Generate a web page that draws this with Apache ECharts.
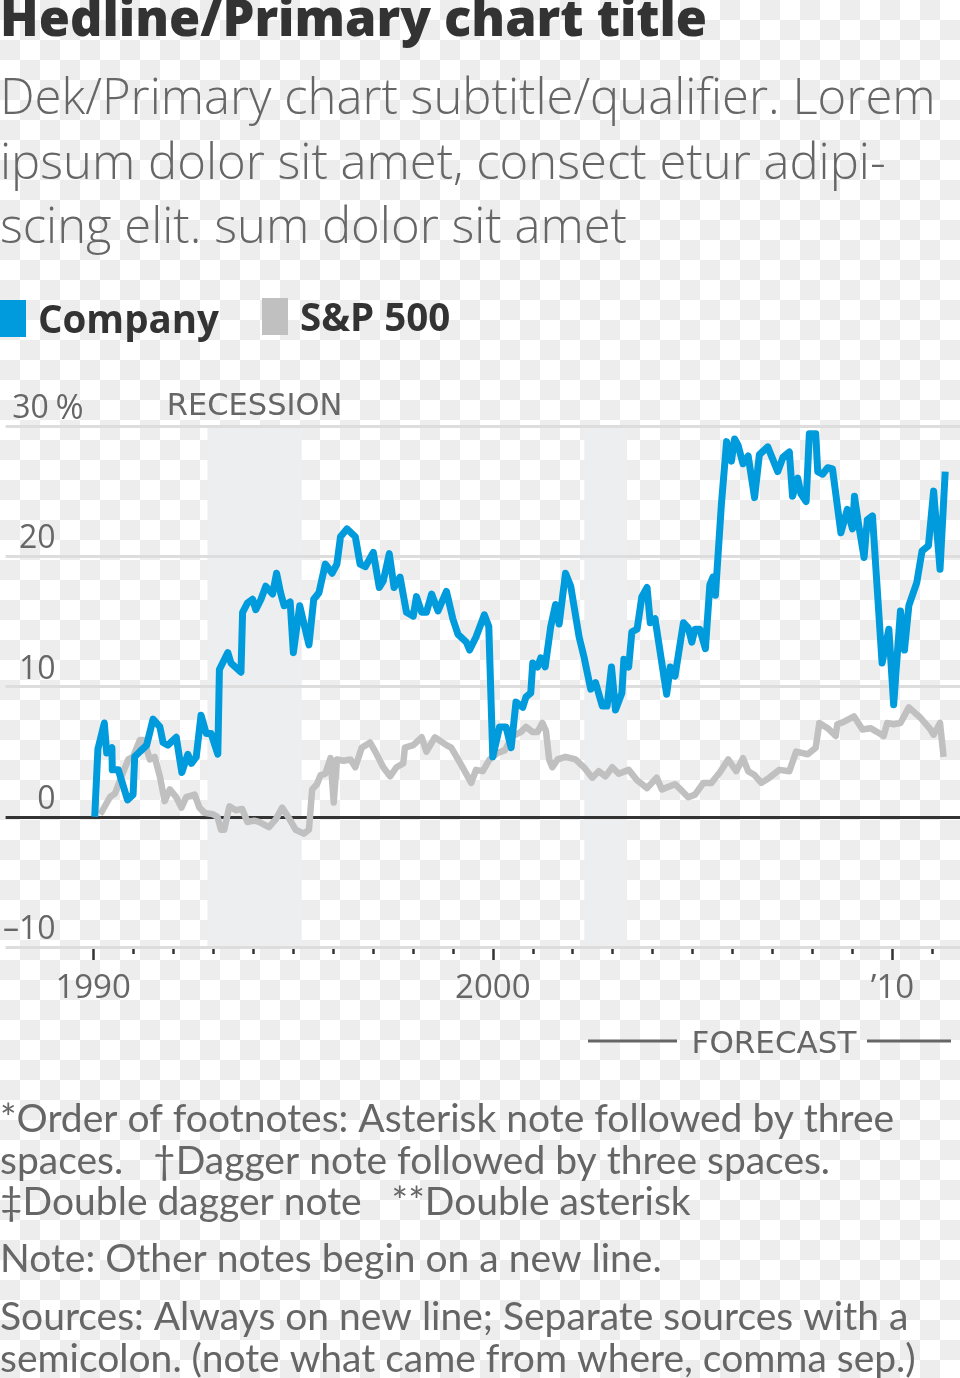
<!DOCTYPE html>
<html>
<head>
<meta charset="utf-8">
<script src="https://cdn.jsdelivr.net/npm/echarts@6/dist/echarts.min.js"></script>
<style>
html,body{margin:0;padding:0;}
body{width:960px;height:1378px;background:repeating-conic-gradient(#ffffff 0 25%, #ededed 0 50%) 0 0/40px 40px;}
#chart{width:960px;height:1378px;}
</style>
</head>
<body>
<div id="chart"></div>
<script>
// ---------------- DATA ----------------
const titleText = 'Hedline/Primary chart title';
const subtitleLines = [
  'Dek/Primary chart subtitle/qualifier. Lorem',
  'ipsum dolor sit amet, consect etur adipi-',
  'scing elit. sum dolor sit amet'
];
const footnoteLines = [
  '*Order of footnotes: Asterisk note followed by three',
  'spaces.   \u2020Dagger note followed by three spaces.',
  '\u2021Double dagger note   **Double asterisk'
];
const noteLine = 'Note: Other notes begin on a new line.';
const sourceLines = [
  'Sources: Always on new line; Separate sources with a',
  'semicolon. (note what came from where, comma sep.)'
];
const seriesNames = ['Company', 'S&P 500'];
const yTicks = [-10, 0, 10, 20, 30];
const xTickYears = [1990,1991,1992,1993,1994,1995,1996,1997,1998,1999,2000,2001,2002,2003,2004,2005,2006,2007,2008,2009,2010,2011];
const xLabelYears = [1990, 2000, 2010];
const xLabelText = ['1990', '2000', '\u201910'];
const recessionLabel = 'RECESSION';
const recessions = [[1992.86, 1995.22], [2002.29, 2003.36]];
const forecastLabel = 'FORECAST';

// [year, % change]
const companyData = [
[1990.04,0],[1990.12,5.2],[1990.28,7.2],[1990.34,4.9],[1990.47,5.3],[1990.48,3.6],[1990.63,3.6],[1990.86,1.3],[1991.00,1.7],[1991.04,4.6],
[1991.17,5.0],[1991.34,5.5],[1991.50,7.5],[1991.67,6.9],[1991.75,5.7],[1991.87,5.5],[1992.08,6.1],[1992.22,3.4],[1992.37,4.8],[1992.46,4.1],
[1992.58,4.6],[1992.70,7.8],[1992.83,6.4],[1992.95,6.4],[1993.12,4.8],[1993.16,11.3],[1993.37,12.6],[1993.45,11.8],[1993.70,11.1],[1993.74,15.7],
[1993.86,16.4],[1993.99,16.7],[1994.07,15.9],[1994.20,16.7],[1994.32,17.7],[1994.49,17.1],[1994.59,18.7],[1994.69,17.2],[1994.78,16.2],[1994.93,16.5],
[1995.01,12.6],[1995.17,16.2],[1995.40,13.2],[1995.52,16.7],[1995.65,17.2],[1995.81,19.4],[1995.98,18.7],[1996.10,19.4],[1996.19,21.5],[1996.35,22.1],
[1996.56,21.5],[1996.68,19.4],[1996.81,19.2],[1997.01,20.3],[1997.16,17.6],[1997.26,18.1],[1997.41,20.2],[1997.53,17.6],[1997.68,18.4],[1997.84,15.7],
[1998.01,15.4],[1998.09,16.9],[1998.22,15.7],[1998.34,15.7],[1998.47,17.1],[1998.63,15.8],[1998.84,17.3],[1999.00,15.2],[1999.13,14.0],[1999.34,13.4],
[1999.42,12.8],[1999.58,13.8],[1999.79,15.5],[1999.90,14.6],[2000.00,4.6],[2000.17,6.9],[2000.33,6.9],[2000.46,5.3],[2000.58,8.8],[2000.75,8.4],
[2000.83,9.2],[2000.95,9.5],[2001.00,11.8],[2001.12,11.5],[2001.20,12.2],[2001.31,11.5],[2001.45,14.6],[2001.57,16.3],[2001.66,14.8],[2001.82,18.7],
[2001.95,17.7],[2002.16,13.8],[2002.28,12.3],[2002.45,9.8],[2002.57,10.3],[2002.74,8.5],[2002.86,8.5],[2002.97,11.5],[2003.07,8.2],[2003.23,9.5],
[2003.28,12.1],[2003.40,11.5],[2003.48,14.2],[2003.61,14.4],[2003.73,16.9],[2003.86,17.6],[2003.94,14.9],[2004.06,15.2],[2004.35,9.4],[2004.44,11.5],
[2004.56,10.8],[2004.77,14.9],[2004.89,14.5],[2004.98,13.4],[2005.06,14.4],[2005.18,14.4],[2005.32,12.9],[2005.43,17.8],[2005.51,18.4],[2005.57,17.0],
[2005.72,24.0],[2005.85,28.8],[2005.97,27.3],[2006.05,29.0],[2006.14,28.5],[2006.26,27.1],[2006.39,27.7],[2006.55,24.5],[2006.67,27.8],[2006.88,28.4],
[2007.13,26.5],[2007.26,27.6],[2007.42,28.0],[2007.50,24.6],[2007.63,26.0],[2007.71,24.8],[2007.84,24.2],[2007.92,29.4],[2008.08,29.4],[2008.13,26.5],
[2008.25,26.3],[2008.38,26.8],[2008.50,26.7],[2008.71,21.8],[2008.87,23.6],[2009.00,22.1],[2009.05,24.6],[2009.15,22.5],[2009.29,19.9],[2009.37,22.8],
[2009.50,23.1],[2009.74,11.8],[2009.91,14.4],[2010.03,8.6],[2010.20,15.8],[2010.30,12.8],[2010.41,16.2],[2010.61,18.0],[2010.74,20.4],[2010.90,20.8],
[2011.03,25.0],[2011.19,19.0],[2011.32,26.5]
];

const spData = [
[1990.17,0.2],[1990.22,0.4],[1990.42,1.5],[1990.55,1.8],[1990.71,3.1],[1990.88,4.4],[1991.00,4.6],[1991.17,5.9],[1991.25,5.9],[1991.34,5.2],
[1991.42,4.4],[1991.54,4.6],[1991.67,3.1],[1991.79,1.2],[1991.92,2.1],[1992.08,1.5],[1992.21,0.7],[1992.33,1.5],[1992.54,1.7],[1992.66,0.7],
[1992.79,0.3],[1992.99,0.2],[1993.11,0.0],[1993.20,-1.0],[1993.28,-1.0],[1993.41,0.8],[1993.57,0.5],[1993.73,0.6],[1993.86,-0.4],[1994.03,-0.3],
[1994.15,-0.4],[1994.28,-0.6],[1994.40,-0.8],[1994.57,-0.2],[1994.73,0.7],[1994.90,-0.1],[1995.07,-1.0],[1995.27,-1.3],[1995.40,-1.0],[1995.48,2.1],
[1995.60,2.5],[1995.69,3.2],[1995.81,3.3],[1995.94,4.5],[1996.02,1.1],[1996.10,4.4],[1996.27,4.3],[1996.44,4.4],[1996.56,3.8],[1996.72,5.3],
[1996.93,5.7],[1997.06,5.0],[1997.26,3.8],[1997.43,3.1],[1997.59,3.8],[1997.76,4.1],[1997.80,5.3],[1998.01,5.5],[1998.22,6.1],[1998.34,5.0],
[1998.55,6.1],[1998.84,5.5],[1998.96,5.3],[1999.17,4.2],[1999.46,2.6],[1999.58,3.6],[1999.75,3.5],[1999.92,4.4],[2000.12,4.9],[2000.30,5.1],
[2000.50,6.2],[2000.70,6.5],[2000.83,6.9],[2001.00,6.5],[2001.12,6.5],[2001.24,7.2],[2001.33,6.6],[2001.41,4.4],[2001.49,3.8],[2001.62,4.4],
[2001.82,4.6],[2002.07,4.4],[2002.28,3.8],[2002.49,3.0],[2002.65,3.5],[2002.82,3.1],[2002.99,3.8],[2003.15,3.3],[2003.40,3.6],[2003.61,2.8],
[2003.86,2.2],[2004.10,3.0],[2004.23,2.1],[2004.56,2.5],[2004.73,2.0],[2004.89,1.5],[2005.06,1.7],[2005.27,2.6],[2005.47,2.6],[2005.68,3.4],
[2005.89,4.4],[2006.09,3.5],[2006.26,4.5],[2006.39,3.5],[2006.55,3.2],[2006.72,2.6],[2006.92,3.0],[2007.17,3.6],[2007.42,3.5],[2007.59,5.0],
[2007.88,4.8],[2008.08,5.3],[2008.17,7.2],[2008.38,6.8],[2008.58,6.2],[2008.62,7.1],[2008.79,7.3],[2009.04,7.7],[2009.25,6.7],[2009.45,6.8],
[2009.62,6.5],[2009.78,6.2],[2009.87,7.2],[2010.03,7.1],[2010.20,7.2],[2010.41,8.4],[2010.70,7.6],[2010.95,6.7],[2011.03,6.3],[2011.19,7.2],
[2011.28,4.6]
];

// ---------------- CHART ----------------
const HEAD_FONT = 'Open Sans';
const NOTE_FONT = 'Lato';
const AXIS_FONT = 'Open Sans';
const CAPS_FONT = 'DejaVu Sans';
const GREY_TEXT = '#666666';
const DARK = '#333333';
const BLUE = '#009bdc';
const GREY_LINE = '#c0c0c0';
const X_MIN = 1987.81, X_MAX = 2011.69;

const chart = echarts.init(document.getElementById('chart'), null, {renderer: 'canvas'});

function yLabel(v) {
  const s = v < 0 ? '\u2013' + Math.abs(v) : String(v);
  return v === yTicks[yTicks.length - 1] ? '{n|' + s + '}{p|%}' : '{n|' + s + '}';
}

const legendRich = {t: {fontFamily: HEAD_FONT, fontSize: 38.5, fontWeight: 'bold', color: DARK, padding: [7, 0, 0, 7]}};
const legendBase = {icon: 'rect', itemWidth: 26, itemHeight: 37, selectedMode: false, padding: 0,
  formatter: name => '{t|' + name + '}', textStyle: {rich: legendRich}};

const option = {
  animation: false,
  backgroundColor: 'transparent',
  textStyle: {fontFamily: HEAD_FONT},
  title: {
    text: titleText, left: 0, top: -3.5, padding: 0,
    textStyle: {fontFamily: HEAD_FONT, fontSize: 50.5, fontWeight: 800, color: DARK, lineHeight: 50.5}
  },
  legend: [
    Object.assign({data: [seriesNames[0]], left: 0, top: 300}, legendBase),
    Object.assign({data: [seriesNames[1]], left: 262, top: 298}, legendBase)
  ],
  grid: {left: 0, right: 0, top: 426, bottom: 431, containLabel: false},
  xAxis: [
    {type: 'value', min: X_MIN, max: X_MAX, position: 'bottom',
     axisLine: {show: false, onZero: false}, splitLine: {show: false},
     axisTick: {show: true, customValues: xTickYears, length: 7, lineStyle: {color: DARK, width: 2.5}},
     axisLabel: {show: false}},
    {type: 'value', min: X_MIN, max: X_MAX, position: 'bottom',
     axisLine: {show: false, onZero: false}, splitLine: {show: false},
     axisTick: {show: true, customValues: xLabelYears, length: 13, lineStyle: {color: DARK, width: 2.5}},
     axisLabel: {show: true, customValues: xLabelYears, margin: 27, fontSize: 33, fontFamily: AXIS_FONT, color: GREY_TEXT, lineHeight: 30,
       formatter: v => xLabelText[xLabelYears.indexOf(Math.round(v))]}}
  ],
  yAxis: {
    type: 'value', min: yTicks[0], max: yTicks[yTicks.length - 1], interval: 10, z: 2,
    axisLine: {show: false}, axisTick: {show: false},
    splitLine: {show: true, lineStyle: {color: ['#dddddd', DARK, '#dddddd', '#dddddd', '#dddddd'], width: 3}},
    axisLabel: {
      inside: true, margin: 0, verticalAlign: 'bottom', padding: [0, 0, 2, 0],
      formatter: yLabel,
      rich: {
        n: {width: 50, align: 'right', fontSize: 32, fontFamily: AXIS_FONT, color: GREY_TEXT, lineHeight: 30},
        p: {fontSize: 34, fontFamily: AXIS_FONT, color: GREY_TEXT, lineHeight: 30}
      }
    }
  },
  series: [
    {
      name: 'recession', type: 'line', data: [], z: -1, silent: true,
      markArea: {
        silent: true, z: -1,
        itemStyle: {color: '#edeef0'},
        label: {show: true, position: 'top', distance: 3, fontFamily: CAPS_FONT, fontSize: 30.5, color: GREY_TEXT,
                formatter: p => p.name},
        data: recessions.map((r, i) => [{name: i === 0 ? recessionLabel : '', xAxis: r[0]}, {xAxis: r[1]}])
      }
    },
    {
      name: seriesNames[1], type: 'line', data: spData, symbol: 'none', z: 3, silent: true,
      lineStyle: {color: GREY_LINE, width: 6.5, join: 'round'}, itemStyle: {color: GREY_LINE}
    },
    {
      name: seriesNames[0], type: 'line', data: companyData, symbol: 'none', z: 4, silent: true,
      lineStyle: {color: BLUE, width: 7, join: 'round'}, itemStyle: {color: BLUE}
    }
  ],
  graphic: [
    {type: 'text', x: 0, y: 68, silent: true,
     style: {text: subtitleLines.join('\n'), fontFamily: HEAD_FONT, fontWeight: 300, fontSize: 49, lineHeight: 64.5, fill: GREY_TEXT, verticalAlign: 'top'}},
    {type: 'line', silent: true, shape: {x1: 588, y1: 1041, x2: 677, y2: 1041}, style: {stroke: GREY_TEXT, lineWidth: 3}},
    {type: 'line', silent: true, shape: {x1: 867, y1: 1041, x2: 951, y2: 1041}, style: {stroke: GREY_TEXT, lineWidth: 3}},
    {type: 'text', x: 774, y: 1045, silent: true,
     style: {text: forecastLabel, fontFamily: CAPS_FONT, fontSize: 31, fill: GREY_TEXT, align: 'center', verticalAlign: 'middle'}},
    {type: 'text', x: 0, y: 1099, silent: true,
     style: {text: footnoteLines.join('\n'), fontFamily: NOTE_FONT, fontSize: 39, lineHeight: 41.5, fill: GREY_TEXT, verticalAlign: 'top'}},
    {type: 'text', x: 0, y: 1239, silent: true,
     style: {text: noteLine, fontFamily: NOTE_FONT, fontSize: 39, lineHeight: 41.5, fill: GREY_TEXT, verticalAlign: 'top'}},
    {type: 'text', x: 0, y: 1297, silent: true,
     style: {text: sourceLines.join('\n'), fontFamily: NOTE_FONT, fontSize: 39, lineHeight: 41.5, fill: GREY_TEXT, verticalAlign: 'top'}}
  ]
};
chart.setOption(option);
</script>
</body>
</html>
